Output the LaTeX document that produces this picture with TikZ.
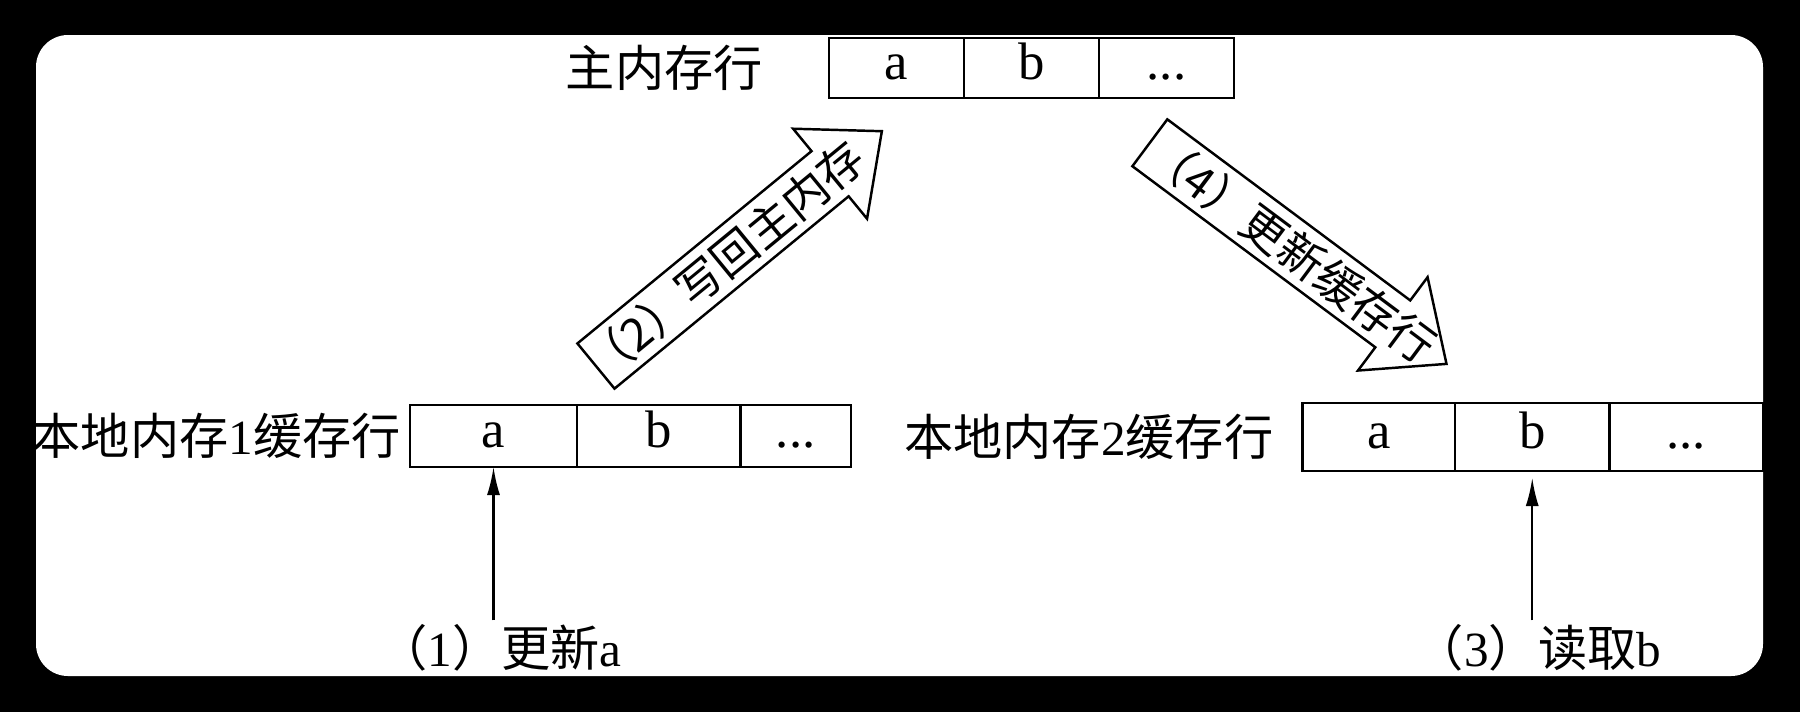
\documentclass[tikz,border=0pt]{standalone}
\usepackage{fontspec}
\setmainfont{Liberation Serif}
\newfontfamily\cjk{Noto Sans CJK SC}
\usetikzlibrary{arrows.meta,positioning,shapes.arrows}
\newcommand\zh[1]{{\cjk #1}}
\newcommand\ddd{...}

\begin{document}
\begin{tikzpicture}

\tikzset{cell/.style = {draw, line width=0.8pt, inner sep=0pt, outer sep=0pt, text height=0.7em, text depth=0.06em, font=\fontsize{15}{17}\selectfont}}
\tikzset{lbl/.style = {inner sep=1pt, font=\fontsize{14}{16}\selectfont}}
\tikzset{edge/.style = {-{Latex[length=2.8mm,width=1.3mm]}, line width=0.6pt}}
\tikzset{flow/.style = {single arrow, draw, line width=0.7pt, minimum height=3.7cm, minimum width=1.14cm, inner xsep=0pt, inner ysep=0.28cm, single arrow head extend=0.29cm, single arrow tip angle=82}}
\tikzset{flowtext/.style = {inner sep=0pt, font=\cjk\fontsize{13}{15}\selectfont}}

% frame
\fill[black] (0,0) rectangle (18,-7.12);
\fill[white, rounded corners=0.32cm] (0.36,-0.35) rectangle (17.63,-6.76);

% cache lines
\foreach \pos/\name/\w/\h/\txt in {{(8.965,-0.68)/m1/1.35/0.60/a}, {(10.315,-0.68)/m2/1.35/0.60/b}, {(11.665,-0.68)/m3/1.35/0.60/\ddd},
  {(4.935,-4.36)/l1/1.67/0.62/a}, {(6.5875,-4.36)/l2/1.635/0.62/b}, {(7.9575,-4.36)/l3/1.105/0.62/\ddd},
  {(13.7875,-4.37)/r1/1.525/0.68/a}, {(15.3225,-4.37)/r2/1.545/0.68/b}, {(16.8625,-4.37)/r3/1.535/0.68/\ddd}}
\node[cell, minimum width=\w cm, minimum height=\h cm] (\name) at \pos {\txt};

\node[lbl, left=0.62cm of m1] (mainlbl) {\zh{主内存行}};
\node[lbl, left=0.05cm of l1] (loc1lbl) {\zh{本地内存}1\zh{缓存行}};
\node[lbl, left=0.25cm of r1] (loc2lbl) {\zh{本地内存}2\zh{缓存行}};

\node[lbl] (upd) at (5.00,-6.48) {\zh{（}1\zh{）更新}a};
\node[lbl] (rd) at (15.38,-6.48) {\zh{（}3\zh{）读取}b};

\draw[edge] (upd.north -| l1.south) -- (l1.south);
\draw[edge, shorten >=2pt] (rd.north -| r2.south) -- (r2.south);

% big arrows
\node[flow, rotate=39.4, anchor=tip] (wb) at (8.833,-1.30) {};
\node[flow, rotate=-36.7, anchor=tip] (upc) at (14.48,-3.65) {};
\node[flowtext, rotate=39.4] (wbtxt) at (7.246,-2.604) {（2）写回主内存};
\node[flowtext, rotate=-36.7] (upctxt) at (12.92,-2.49) {（4）更新缓存行};

\end{tikzpicture}
\end{document}
